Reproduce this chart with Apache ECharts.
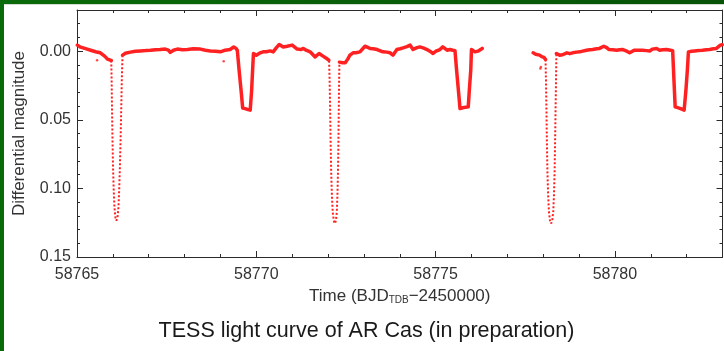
<!DOCTYPE html>
<html>
<head>
<meta charset="utf-8">
<script src="https://cdn.jsdelivr.net/npm/echarts@6/dist/echarts.min.js"></script>
<style>
html,body{margin:0;padding:0;background:#fff;}
#chart{width:724px;height:351px;}
</style>
</head>
<body>
<div id="chart"></div>
<script>
// ---- Data (time in BJD-2450000, differential magnitude) ----
// Out-of-primary-eclipse light curve (includes secondary eclipses); null = gap
const baseT = [
58765.01,58765.10,58765.24,58765.38,58765.52,58765.65,58765.77,58765.85,58765.93,58765.955,
58766.10,
58766.27,58766.35,58766.49,58766.63,58766.77,58766.91,58767.05,58767.19,58767.32,58767.46,
58767.55,58767.60,58767.69,58767.80,58767.94,58768.08,58768.24,58768.44,58768.58,58768.72,
58768.86,58769.00,58769.13,58769.27,58769.37,58769.43,58769.47,58769.52,58769.58,58769.62,
58769.69,58769.77,58769.83,58769.87,58769.90,58769.92,58770.00,58770.11,58770.19,58770.28,
58770.39,58770.47,58770.55,58770.64,58770.75,58770.86,58771.00,58771.14,58771.25,58771.31,
58771.39,58771.50,58771.64,58771.75,58771.86,58771.95,58772.02,58772.03,
58772.19,
58772.318,58772.34,58772.41,58772.48,58772.55,58772.61,58772.70,58772.78,58772.89,58773.03,
58773.17,58773.26,58773.37,58773.53,58773.64,58773.73,58773.81,58773.92,58774.01,58774.09,
58774.20,58774.29,58774.37,58774.48,58774.56,58774.67,58774.76,58774.84,58774.93,58775.01,
58775.12,58775.20,58775.32,58775.40,58775.48,58775.54,58775.59,58775.64,58775.68,58775.76,
58775.84,58775.91,58775.94,58775.98,58776.00,58776.10,58776.18,58776.23,58776.30,
58777.00,
58777.72,58777.79,58777.90,58777.96,58778.02,58778.06,58778.065,
58778.22,
58778.368,58778.46,58778.54,58778.66,58778.74,58778.82,58778.93,58779.02,58779.10,58779.21,
58779.30,58779.38,58779.49,58779.57,58779.69,58779.77,58779.83,58779.94,58780.05,58780.13,
58780.22,58780.33,58780.41,58780.49,58780.55,58780.69,58780.77,58780.88,58780.97,58781.05,
58781.16,58781.25,58781.33,58781.44,58781.55,58781.61,58781.64,58781.68,58781.75,58781.83,
58781.93,58781.98,58782.02,58782.05,58782.14,58782.22,58782.33,58782.44,58782.55,58782.64,
58782.75,58782.83,58782.94,58782.99
];
const baseM = [
-0.0044,-0.0029,-0.0018,-0.0007,0.0004,0.0012,0.0036,0.0058,0.0066,0.0068,
null,
0.0029,0.0015,0.0007,0.0000,-0.0002,-0.0004,-0.0007,-0.0011,-0.0012,-0.0015,
-0.0007,0.0009,-0.0007,-0.0015,-0.0011,-0.0012,-0.0018,-0.0015,-0.0007,-0.0002,
0.0000,0.0005,-0.0007,-0.0012,-0.0031,-0.0022,-0.0007,0.0138,0.0299,0.0415,
0.0419,0.0426,0.0430,0.0284,0.0120,0.0017,0.0029,0.0012,0.0005,0.0004,
-0.0002,0.0005,-0.0022,-0.0049,-0.0031,-0.0036,-0.0044,-0.0015,-0.0012,-0.0020,
-0.0007,0.0005,0.0042,0.0017,0.0036,0.0051,0.0066,0.0070,
null,
0.0080,0.0078,0.0084,0.0085,0.0058,0.0029,0.0012,0.0011,0.0005,-0.0036,
-0.0020,-0.0018,-0.0012,0.0005,0.0007,0.0012,0.0029,-0.0012,-0.0018,-0.0024,
-0.0033,-0.0044,-0.0012,-0.0026,-0.0031,-0.0022,-0.0012,0.0000,0.0017,0.0000,
-0.0012,-0.0031,-0.0007,-0.0012,-0.0007,-0.0004,0.0153,0.0299,0.0418,0.0412,
0.0408,0.0406,0.0284,0.0138,-0.0012,0.0005,0.0000,-0.0007,-0.0020,
null,
0.0012,0.0022,0.0029,0.0040,0.0046,0.0053,0.0060,
null,
0.0017,0.0029,0.0026,0.0012,0.0018,0.0012,0.0007,0.0005,0.0000,-0.0007,
-0.0011,-0.0012,-0.0018,-0.0020,-0.0036,-0.0026,-0.0012,-0.0011,-0.0007,-0.0011,
-0.0012,0.0000,0.0012,0.0000,-0.0007,-0.0007,-0.0007,-0.0004,-0.0002,-0.0015,
-0.0020,-0.0007,-0.0011,-0.0012,-0.0007,-0.0004,0.0175,0.0406,0.0412,0.0419,
0.0430,0.0284,0.0138,0.0005,0.0000,-0.0002,-0.0004,-0.0007,-0.0011,-0.0012,
-0.0018,-0.0020,-0.0044,-0.0047
];
// Primary eclipses (null separates the three events)
const primT = [
58765.955,58765.965,58765.975,58765.990,58766.005,58766.025,58766.045,58766.070,58766.100,58766.130,
58766.155,58766.175,58766.195,58766.215,58766.235,58766.250,58766.270,
58767.00,
58772.030,58772.045,58772.058,58772.072,58772.088,58772.108,58772.130,58772.160,58772.190,58772.220,
58772.245,58772.262,58772.278,58772.290,58772.300,58772.310,58772.318,
58775.00,
58778.065,58778.078,58778.090,58778.103,58778.118,58778.138,58778.160,58778.190,58778.222,58778.252,
58778.280,58778.300,58778.318,58778.332,58778.345,58778.357,58778.368
];
const primM = [
0.0068,0.0200,0.0400,0.0650,0.0850,0.1020,0.1140,0.1210,0.1235,0.1210,
0.1140,0.1020,0.0850,0.0650,0.0400,0.0200,0.0029,
null,
0.0070,0.0220,0.0420,0.0660,0.0880,0.1050,0.1170,0.1235,0.1256,0.1235,
0.1170,0.1050,0.0880,0.0660,0.0420,0.0200,0.0080,
null,
0.0060,0.0220,0.0420,0.0660,0.0880,0.1050,0.1170,0.1235,0.1256,0.1235,
0.1170,0.1050,0.0880,0.0660,0.0420,0.0220,0.0017
];
// Isolated outlying points
const outT = [58765.56, 58769.09, 58777.92, 58777.935];
const outM = [0.0066, 0.0073, 0.0126, 0.0116];

// Axis ticks and labels
const xMajor = [58765, 58770, 58775, 58780];
const xMinor = [58765,58766,58767,58768,58769,58770,58771,58772,58773,58774,58775,58776,58777,58778,58779,58780,58781,58782,58783];
const yMajor = [0.00, 0.05, 0.10, 0.15];
const yMinor = [-0.03,-0.02,-0.01,0.00,0.01,0.02,0.03,0.04,0.05,0.06,0.07,0.08,0.09,0.10,0.11,0.12,0.13,0.14,0.15];
const xMin = 58765, xMax = 58783, yMin = -0.03, yMax = 0.15;

function pairs(ts, ms) {
  return ts.map((t, i) => [t, ms[i] === null ? '-' : ms[i]]);
}

const FONT = 'Liberation Sans';
const AX = '#2a2a2a';
const TXT = '#333';

function xAx(pos, ticks, len, opts) {
  return Object.assign({
    type: 'value', position: pos, min: xMin, max: xMax,
    axisLine: { show: false, onZero: false, lineStyle: { color: AX, width: 1 } },
    axisTick: { show: true, inside: true, length: len, customValues: ticks, lineStyle: { color: AX, width: 1 } },
    axisLabel: { show: false },
    splitLine: { show: false }
  }, opts || {});
}
function yAx(pos, ticks, len, opts) {
  return Object.assign({
    type: 'value', position: pos, min: yMin, max: yMax, inverse: true,
    axisLine: { show: false, onZero: false, lineStyle: { color: AX, width: 1 } },
    axisTick: { show: true, inside: true, length: len, customValues: ticks, lineStyle: { color: AX, width: 1 } },
    axisLabel: { show: false },
    splitLine: { show: false }
  }, opts || {});
}

const chart = echarts.init(document.getElementById('chart'), null, { renderer: 'canvas' });
chart.setOption({
  animation: false,
  backgroundColor: '#ffffff',
  grid: { left: 77, top: 10, width: 645.5, height: 247 },
  xAxis: [
    xAx('bottom', xMajor, 6, {
      axisLine: { show: true, onZero: false, lineStyle: { color: AX, width: 1 } },
      axisLabel: { show: true, customValues: xMajor, fontSize: 16, fontFamily: FONT, color: TXT, margin: 10,
        formatter: v => String(Math.round(v)) },
      name: 'Time (BJD{sub|TDB}\u22122450000)',
      nameLocation: 'middle', nameGap: 28,
      nameTextStyle: { fontSize: 17, fontFamily: FONT, color: TXT,
        rich: { sub: { fontSize: 10, fontFamily: FONT, color: TXT, padding: [8, 0, 0, 0] } } }
    }),
    xAx('bottom', xMinor, 3),
    xAx('top', xMajor, 6, { axisLine: { show: true, onZero: false, lineStyle: { color: AX, width: 1 } } }),
    xAx('top', xMinor, 3)
  ],
  yAxis: [
    yAx('left', yMajor, 6, {
      axisLine: { show: true, onZero: false, lineStyle: { color: AX, width: 1 } },
      axisLabel: { show: true, customValues: yMajor, fontSize: 16, fontFamily: FONT, color: TXT, margin: 6,
        formatter: v => v.toFixed(2) },
      name: 'Differential magnitude', nameLocation: 'middle', nameGap: 49, nameRotate: 90,
      nameTextStyle: { fontSize: 17, fontFamily: FONT, color: TXT }
    }),
    yAx('left', yMinor, 3),
    yAx('right', yMajor, 6, { axisLine: { show: true, onZero: false, lineStyle: { color: AX, width: 1 } } }),
    yAx('right', yMinor, 3)
  ],
  series: [
    { type: 'line', name: 'light curve', xAxisIndex: 0, yAxisIndex: 0, data: pairs(baseT, baseM),
      showSymbol: false, symbol: 'none', connectNulls: false,
      lineStyle: { color: '#ff2121', width: 3.5, join: 'round', cap: 'round' } },
    { type: 'line', name: 'primary eclipses', xAxisIndex: 0, yAxisIndex: 0, data: pairs(primT, primM),
      showSymbol: false, symbol: 'none', connectNulls: false,
      lineStyle: { color: '#ff2121', width: 2, type: [2, 2] } },
    { type: 'scatter', name: 'outliers', xAxisIndex: 0, yAxisIndex: 0, data: pairs(outT, outM),
      symbolSize: 2.5, itemStyle: { color: '#ff2121' } }
  ],
  graphic: [
    { type: 'rect', shape: { x: 0, y: 0, width: 4, height: 351 }, style: { fill: '#0a6a0a' }, silent: true },
    { type: 'rect', shape: { x: 0, y: 0, width: 724, height: 4 },
      style: { fill: new echarts.graphic.LinearGradient(0, 0, 1, 0, [
        { offset: 0, color: '#0a6a0a' }, { offset: 1, color: '#075207' }]) }, silent: true },
    { type: 'rect', shape: { x: 4, y: 4, width: 720, height: 1 }, style: { fill: '#d4dcd4' }, silent: true },
    { type: 'text', x: 366.5, y: 331.5, silent: true,
      style: { text: 'TESS light curve of AR Cas (in preparation)', fill: '#1a1a1a',
        font: '21.5px "Liberation Sans"', textAlign: 'center', textVerticalAlign: 'middle' } }
  ]
});
</script>
</body>
</html>
